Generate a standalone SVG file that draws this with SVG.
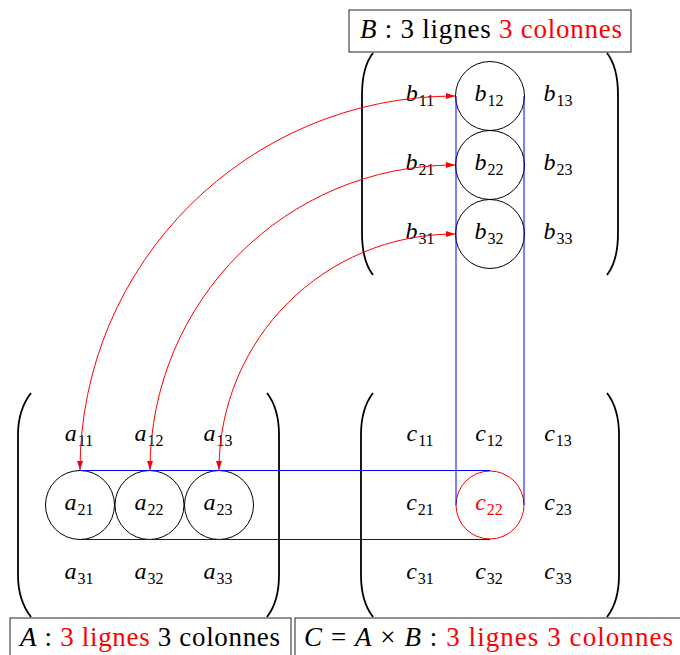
<svg xmlns="http://www.w3.org/2000/svg" width="680" height="655" viewBox="0 0 680 655">
<style>
.e{font-family:"Liberation Serif","Times New Roman",serif;font-size:24px;fill:#000;text-anchor:middle}
.e .v{font-style:italic}
.e .s{font-size:16px}
.red{fill:#ff0000}
.lbl{font-family:"Liberation Serif","Times New Roman",serif;font-size:27px;fill:#000}
.lbl .v{font-style:italic}
.box{fill:#fff;stroke:#222;stroke-width:1}
.par{fill:none;stroke:#000;stroke-width:1.8}
.cir{fill:none;stroke:#000;stroke-width:1}
.arr{fill:none;stroke:#ff0000;stroke-width:1;marker-start:url(#ah);marker-end:url(#ah)}
.blu{fill:none;stroke:#0000ff;stroke-width:1}
</style>
<defs>
<marker id="ah" viewBox="0 0 9 6" refX="9" refY="3" markerWidth="9" markerHeight="6" markerUnits="userSpaceOnUse" orient="auto-start-reverse">
<path d="M0,0 L9,3 L0,6 z" fill="#ff0000"/>
</marker>
</defs>
<rect width="680" height="655" fill="#fff"/>

<g id="matrixB">
<path class="par" d="M373,53 C366,62 362,75 362,95 L362,233 C362,253 366,266 373,275"/>
<path class="par" d="M607,53 C614,62 618,75 618,95 L618,233 C618,253 614,266 607,275"/>
<circle class="cir" cx="490" cy="96" r="34.5"/>
<circle class="cir" cx="490" cy="165" r="34.5"/>
<circle class="cir" cx="490" cy="234" r="34.5"/>
<text class="e" x="420" y="101"><tspan class="v">b</tspan><tspan class="s" dx="1" dy="5">11</tspan></text>
<text class="e" x="489" y="101"><tspan class="v">b</tspan><tspan class="s" dx="1" dy="5">12</tspan></text>
<text class="e" x="558" y="101"><tspan class="v">b</tspan><tspan class="s" dx="1" dy="5">13</tspan></text>
<text class="e" x="420" y="170"><tspan class="v">b</tspan><tspan class="s" dx="1" dy="5">21</tspan></text>
<text class="e" x="489" y="170"><tspan class="v">b</tspan><tspan class="s" dx="1" dy="5">22</tspan></text>
<text class="e" x="558" y="170"><tspan class="v">b</tspan><tspan class="s" dx="1" dy="5">23</tspan></text>
<text class="e" x="420" y="239"><tspan class="v">b</tspan><tspan class="s" dx="1" dy="5">31</tspan></text>
<text class="e" x="489" y="239"><tspan class="v">b</tspan><tspan class="s" dx="1" dy="5">32</tspan></text>
<text class="e" x="558" y="239"><tspan class="v">b</tspan><tspan class="s" dx="1" dy="5">33</tspan></text>
</g>

<g id="matrixA">
<path class="par" d="M31,393 C24,402 18,415 18,435 L18,575 C18,595 24,608 31,617"/>
<path class="par" d="M267,393 C274,402 279,415 279,435 L279,575 C279,595 274,608 267,617"/>
<circle class="cir" cx="80" cy="505" r="34.5"/>
<circle class="cir" cx="149.5" cy="505" r="34.5"/>
<circle class="cir" cx="219" cy="505" r="34.5"/>
<text class="e" x="79" y="441"><tspan class="v">a</tspan><tspan class="s" dx="1" dy="5">11</tspan></text>
<text class="e" x="149" y="441"><tspan class="v">a</tspan><tspan class="s" dx="1" dy="5">12</tspan></text>
<text class="e" x="218" y="441"><tspan class="v">a</tspan><tspan class="s" dx="1" dy="5">13</tspan></text>
<text class="e" x="79" y="510"><tspan class="v">a</tspan><tspan class="s" dx="1" dy="5">21</tspan></text>
<text class="e" x="149" y="510"><tspan class="v">a</tspan><tspan class="s" dx="1" dy="5">22</tspan></text>
<text class="e" x="218" y="510"><tspan class="v">a</tspan><tspan class="s" dx="1" dy="5">23</tspan></text>
<text class="e" x="79" y="579"><tspan class="v">a</tspan><tspan class="s" dx="1" dy="5">31</tspan></text>
<text class="e" x="149" y="579"><tspan class="v">a</tspan><tspan class="s" dx="1" dy="5">32</tspan></text>
<text class="e" x="218" y="579"><tspan class="v">a</tspan><tspan class="s" dx="1" dy="5">33</tspan></text>
</g>

<g id="matrixC">
<path class="par" d="M373,393 C366,402 361,415 361,435 L361,575 C361,595 366,608 373,617"/>
<path class="par" d="M607,393 C614,402 619,415 619,435 L619,575 C619,595 614,608 607,617"/>
<circle cx="490" cy="505" r="34" fill="none" stroke="#ff0000" stroke-width="1"/>
<text class="e" x="420" y="441"><tspan class="v">c</tspan><tspan class="s" dx="1" dy="5">11</tspan></text>
<text class="e" x="489" y="441"><tspan class="v">c</tspan><tspan class="s" dx="1" dy="5">12</tspan></text>
<text class="e" x="558" y="441"><tspan class="v">c</tspan><tspan class="s" dx="1" dy="5">13</tspan></text>
<text class="e" x="420" y="510"><tspan class="v">c</tspan><tspan class="s" dx="1" dy="5">21</tspan></text>
<text class="e red" x="489" y="510"><tspan class="v">c</tspan><tspan class="s" dx="1" dy="5">22</tspan></text>
<text class="e" x="558" y="510"><tspan class="v">c</tspan><tspan class="s" dx="1" dy="5">23</tspan></text>
<text class="e" x="420" y="579"><tspan class="v">c</tspan><tspan class="s" dx="1" dy="5">31</tspan></text>
<text class="e" x="489" y="579"><tspan class="v">c</tspan><tspan class="s" dx="1" dy="5">32</tspan></text>
<text class="e" x="558" y="579"><tspan class="v">c</tspan><tspan class="s" dx="1" dy="5">33</tspan></text>
</g>

<g id="connectors">
<path class="blu" d="M456,96 L456,505 M524,96 L524,505"/>
<path class="blu" d="M80,470.5 L490,470.5 M80,539.5 L490,539.5"/>
<path class="arr" d="M80,470 C80,263 248,96 455,96"/>
<path class="arr" d="M150,470 C150,301 286,165 455,165"/>
<path class="arr" d="M219,470 C219,339 324,234 455,234"/>
</g>

<g id="labelB">
<rect class="box" x="349" y="10" width="282" height="42"/>
<text class="lbl" x="360" y="38" textLength="262" lengthAdjust="spacing"><tspan class="v">B</tspan> : 3 lignes <tspan class="red">3 colonnes</tspan></text>
</g>
<g id="labelA">
<rect class="box" x="10" y="618" width="281" height="42"/>
<text class="lbl" x="20" y="646" textLength="260" lengthAdjust="spacing"><tspan class="v">A</tspan> : <tspan class="red">3 lignes</tspan> 3 colonnes</text>
</g>
<g id="labelC">
<rect class="box" x="295" y="618" width="387" height="42"/>
<text class="lbl" x="304" y="646" textLength="369" lengthAdjust="spacing"><tspan class="v">C</tspan> = <tspan class="v">A</tspan> × <tspan class="v">B</tspan> : <tspan class="red">3 lignes 3 colonnes</tspan></text>
</g>
</svg>
